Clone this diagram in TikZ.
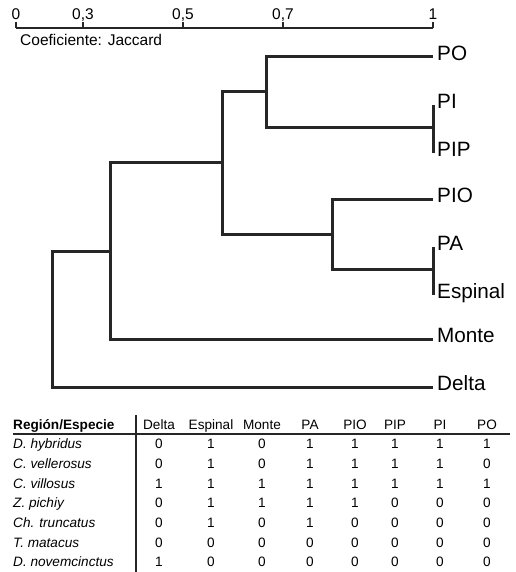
\documentclass[tikz,border=0pt]{standalone}
\usepackage{fontspec}
\setmainfont{Liberation Sans}
\usetikzlibrary{positioning,calc}
\colorlet{TreeGray}{black!85}

\begin{document}
\begin{tikzpicture}[
  x=1pt, y=-1pt,
  branch/.style={line width=3pt, TreeGray},
  axisline/.style={line width=1.6pt, TreeGray},
  tickmark/.style={line width=1.2pt, TreeGray},
  ticklabel/.style={font=\fontsize{15.5}{16}\selectfont, inner sep=0pt, text height=0.72em, text depth=0pt},
  leaflabel/.style={font=\fontsize{20.7}{21}\selectfont, anchor=west, inner sep=0pt, text height=0.72em, text depth=0pt},
  cell/.style={font=\fontsize{13.6}{14}\selectfont, inner sep=0pt, text height=0.72em, text depth=0pt},
  species/.style={cell, anchor=west, font=\fontsize{13.6}{14}\selectfont\itshape},
  tablerule/.style={line width=1.3pt, TreeGray}
]
\useasboundingbox (0,0) rectangle (515,572);

% Scale axis
\coordinate (a0) at (16,28);
\coordinate (a1) at (433,28);
\draw[axisline] (a0) -- (a1);
\foreach \x/\lab [count=\i] in {16/0, 83/{0,3}, 183/{0,5}, 283/{0,7}, 433/1} {
  \coordinate (tk\i) at (\x,28);
  \draw[tickmark] (tk\i) -- ++(0,-6);
  \node[ticklabel] (tl\i) at (\x,15.5) {\lab};
}
\node[ticklabel, anchor=west] (coef) at (20,41.5) {Coeficiente: Jaccard};

% Leaf tips
\coordinate (tPO)  at (433,57);
\coordinate (tPI)  at (433,105);
\coordinate (tPIP) at (433,153);
\coordinate (tPIO) at (433,199);
\coordinate (tPA)  at (433,247);
\coordinate (tEsp) at (433,295);
\coordinate (tMon) at (433,339);
\coordinate (tDel) at (433,387);

% Junctions
\coordinate (jPI) at (433,128);
\coordinate (jPA) at (433,269);
\coordinate (n1) at (266,92);
\coordinate (n2) at (332,234);
\coordinate (n3) at (222,163);
\coordinate (n4) at (110,251);
\coordinate (n5) at (52,319);

% Leaf labels
\foreach \t/\lab in {PO/PO, PI/PI, PIP/PIP, PIO/PIO, PA/PA, Esp/Espinal, Mon/Monte, Del/Delta}
  \node[leaflabel, right=4pt of t\t] (l\t) {\lab};

% Branches
\draw[branch] (tPO) -| (n1) |- (jPI);
\draw[branch] (tPI) -- (tPIP);
\draw[branch] (tPIO) -| (n2) |- (jPA);
\draw[branch] (tPA) -- (tEsp);
\draw[branch] (n1) -| (n3) |- (n2);
\draw[branch] (n3) -| (n4) |- (tMon);
\draw[branch] (n4) -| (n5) |- (tDel);

% Presence table
\node[cell, anchor=west, font=\fontsize{13.6}{14}\selectfont\bfseries] (hsp) at (13,426) {Región/Especie};
\foreach \h/\x [count=\c] in {Delta/159, Espinal/211, Monte/262, PA/310, PIO/355, PIP/395, PI/440, PO/487}
  \node[cell] (h\c) at (\x,426) {\h};

\coordinate (r0) at (13,434);
\coordinate (r1) at (510,434);
\coordinate (c0) at (136,415);
\coordinate (c1) at (136,572);
\draw[tablerule] (r0) -- (r1);
\draw[tablerule] (c0) -- (c1);

\foreach \spname/\vals [count=\r] in {
    D. hybridus/{0,1,0,1,1,1,1,1},
    C. vellerosus/{0,1,0,1,1,1,1,0},
    C. villosus/{1,1,1,1,1,1,1,1},
    Z. pichiy/{0,1,1,1,1,0,0,0},
    Ch. truncatus/{0,1,0,1,0,0,0,0},
    T. matacus/{0,0,0,0,0,0,0,0},
    D. novemcinctus/{1,0,0,0,0,0,0,0}} {
  \node[species] (sp\r) at (13,{445+19.7*(\r-1)}) {\spname};
  \foreach \v [count=\c] in \vals
    \node[cell] (v\r-\c) at (h\c |- sp\r) {\v};
}

\end{tikzpicture}
\end{document}
